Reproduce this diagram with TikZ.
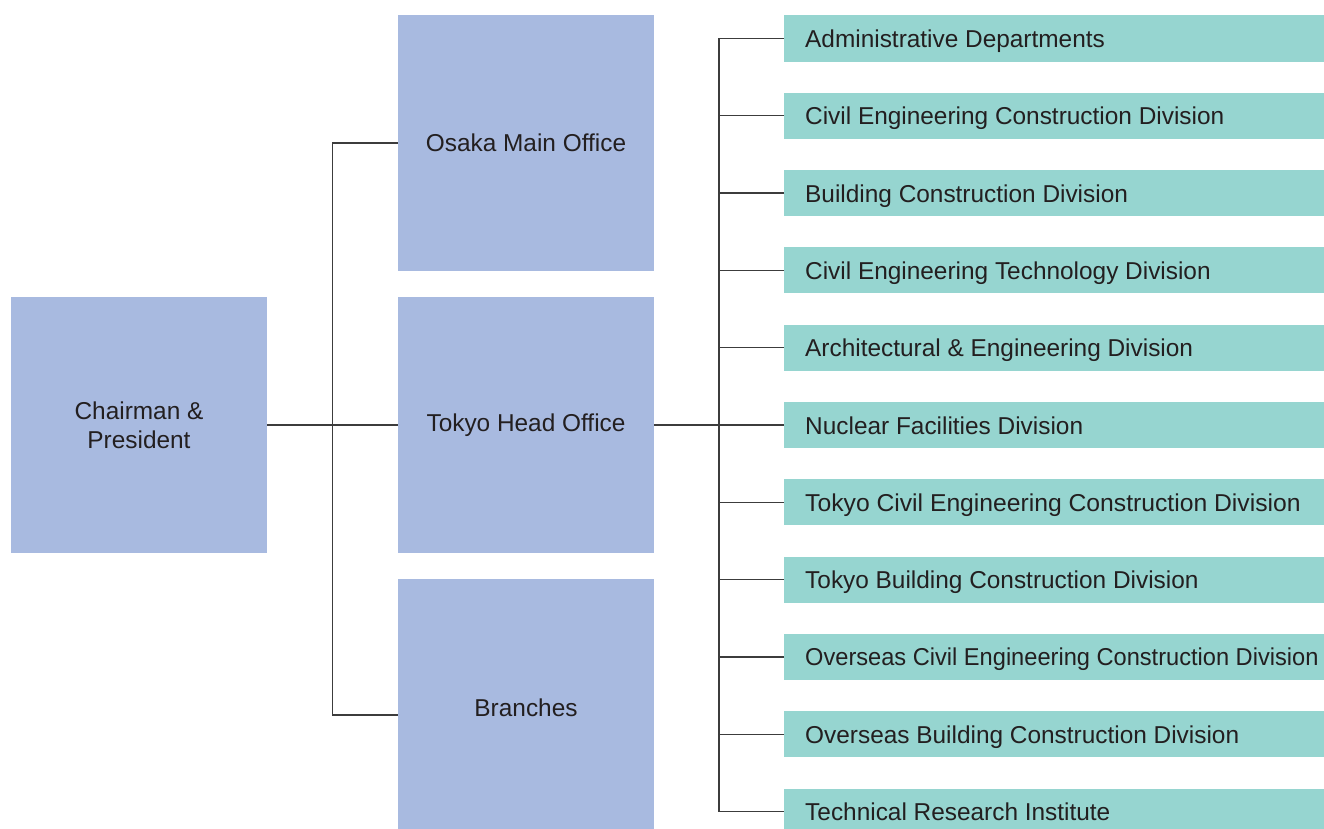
\documentclass[tikz,border=0pt]{standalone}
\usepackage{fontspec}
\setmainfont{Liberation Sans}
\definecolor{bluebox}{HTML}{A8BAE0}
\definecolor{tealbox}{HTML}{96D5D0}
\definecolor{txt}{HTML}{231F20}
\definecolor{ln}{HTML}{3C3C3C}
\tikzset{
  bbox/.style={rectangle, fill=bluebox, draw=none, inner sep=0pt,
    minimum width=256bp, minimum height=256bp, align=center, text=txt,
    font=\fontsize{24.4bp}{29bp}\selectfont},
  tbox/.style={rectangle, fill=tealbox, draw=none, anchor=west,
    inner sep=0pt, minimum width=540bp, minimum height=46bp},
  ttext/.style={anchor=base west, inner sep=0pt, text=txt,
    font=\fontsize{24.4bp}{29bp}\selectfont},
  conn/.style={draw=ln, line width=1.3bp}
}
\begin{document}
\begin{tikzpicture}[x=1bp,y=-1bp]
\useasboundingbox (0,0) rectangle (1324,828);
\clip (0,0) rectangle (1324,828);
\node[bbox] (chair) at (139,425) {Chairman \&\\President};
\node[bbox] (osaka) at (526,143) {Osaka Main Office};
\node[bbox] (tokyo) at (526,425) {Tokyo Head Office};
\node[bbox, minimum height=258bp] (branches) at (526,708) {Branches};
\foreach \i/\s/\t in {1/1/Administrative Departments,
  2/1/Civil Engineering Construction Division,
  3/1/Building Construction Division,
  4/1/Civil Engineering Technology Division,
  5/1/Architectural \& Engineering Division,
  6/1/Nuclear Facilities Division,
  7/1.012/Tokyo Civil Engineering Construction Division,
  8/1/Tokyo Building Construction Division,
  9/0.968/Overseas Civil Engineering Construction Division,
  10/1/Overseas Building Construction Division,
  11/1/Technical Research Institute}{
  \node[tbox] (d\i) at (784,{425+(\i-6)*77.3}) {};
  \node[ttext] (t\i) at ([xshift=21bp,yshift=-9bp]d\i.west) {\scalebox{\s}[1]{\t}};
}
% left tree
\draw[conn] (chair.east) -- (tokyo.west);
\draw[conn] (osaka.west) -- ++(-65,0) |- ([yshift=-7bp]branches.west);
% right tree
\draw[conn] (tokyo.east) -- (d6.west);
\draw[conn] (d1.west) -- ++(-65,0) |- (d11.west);
\foreach \i in {2,3,4,5,7,8,9,10}{
  \draw[conn] (d\i.west) -- ++(-65,0);
}
\end{tikzpicture}
\end{document}
